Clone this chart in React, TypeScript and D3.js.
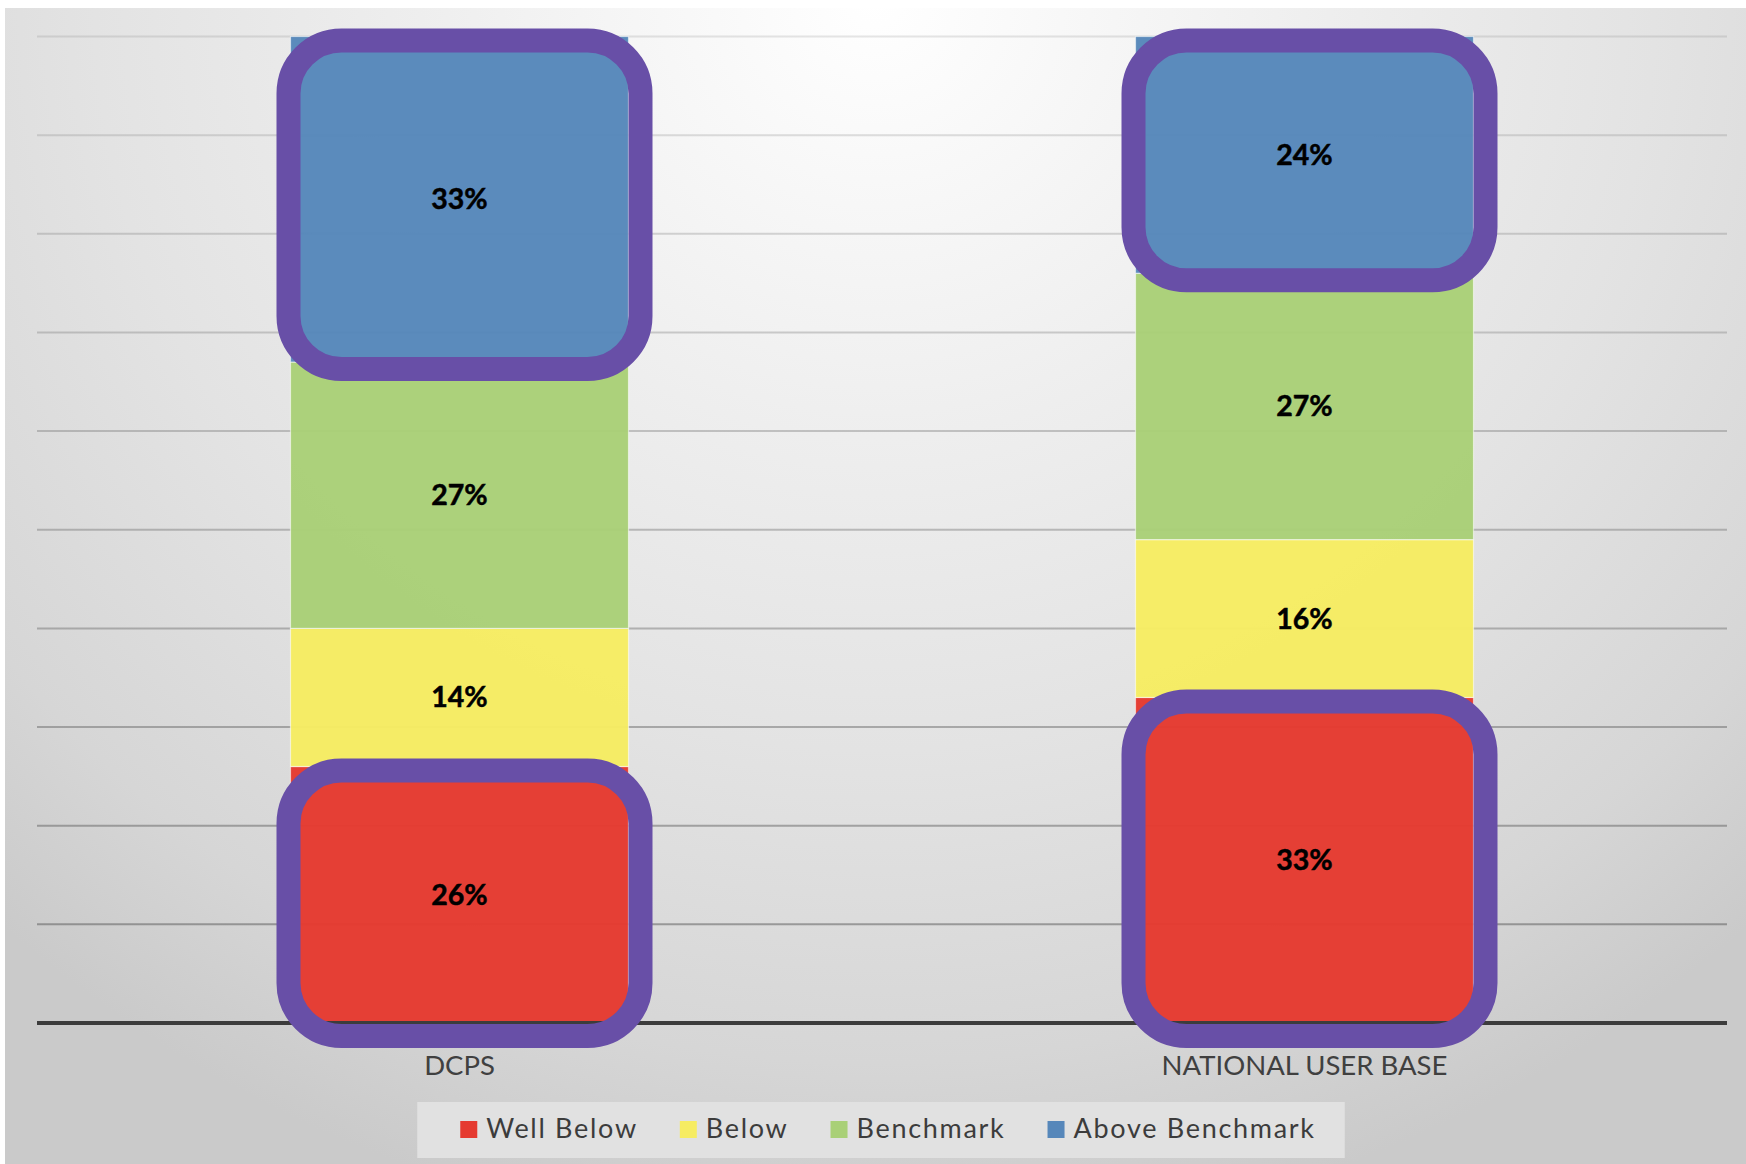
import React, { useLayoutEffect, useRef, useState } from "react";
import * as d3 from "d3";

const W = 1746;
const H = 1164;

const categories = ["DCPS", "NATIONAL USER BASE"];
const seriesNames = ["Well Below", "Below", "Benchmark", "Above Benchmark"];
const wellBelow = [0.26, 0.33];
const below = [0.14, 0.16];
const benchmark = [0.27, 0.27];
const aboveBenchmark = [0.33, 0.24];
const seriesColors = ["#E53A30", "#F6EC62", "#A9D077", "#5687BA"];
const yTickValues = [0.1, 0.2, 0.3, 0.4, 0.5, 0.6, 0.7, 0.8, 0.9, 1.0];
const highlights = [
  { category: "DCPS", series: "Above Benchmark" },
  { category: "DCPS", series: "Well Below" },
  { category: "NATIONAL USER BASE", series: "Above Benchmark" },
  { category: "NATIONAL USER BASE", series: "Well Below" },
];

const FONT = "Lato, 'Open Sans', 'DejaVu Sans', sans-serif";

export default function App() {
  const plotLeft = 37;
  const plotRight = 1727;
  const plotTop = 36.5;
  const plotBottom = 1023;

  const x = d3
    .scaleBand<string>()
    .domain(categories)
    .range([plotLeft, plotRight])
    .paddingInner(0.6)
    .paddingOuter(0.3);
  const y = d3.scaleLinear().domain([0, 1]).range([plotBottom, plotTop]);
  const bw = x.bandwidth();

  const rows = categories.map((c, i) => ({
    category: c,
    "Well Below": wellBelow[i],
    Below: below[i],
    Benchmark: benchmark[i],
    "Above Benchmark": aboveBenchmark[i],
  }));
  const stacked = d3.stack<any>().keys(seriesNames)(rows);
  const color = d3.scaleOrdinal<string, string>().domain(seriesNames).range(seriesColors);
  const pct = d3.format(".0%");

  // legend measurement
  const textRefs = useRef<(SVGTextElement | null)[]>([]);
  const [widths, setWidths] = useState<number[]>(seriesNames.map(() => 140));
  useLayoutEffect(() => {
    const w = textRefs.current.map((t) => (t ? t.getComputedTextLength() : 140));
    if (w.some((v, i) => Math.abs(v - widths[i]) > 0.5)) setWidths(w);
  });

  const swatch = 17;
  const swGap = 9;
  const itemGap = 42;
  const legendTotal =
    widths.reduce((a, b) => a + b, 0) +
    seriesNames.length * (swatch + swGap) +
    (seriesNames.length - 1) * itemGap;
  const legendCenter = (plotLeft + plotRight) / 2 + 6;
  const legendStart = legendCenter - legendTotal / 2;
  const itemX: number[] = [];
  let acc = legendStart;
  widths.forEach((w) => {
    itemX.push(acc);
    acc += swatch + swGap + w + itemGap;
  });
  const legendBoxX0 = legendStart - 43;
  const legendBoxX1 = legendStart + legendTotal + 29;

  return (
    <div style={{ position: "absolute", left: 0, top: 0, width: W, height: H }}>
      <svg width={W} height={H} style={{ display: "block" }}>
        <defs>
          <radialGradient
            id="bg"
            gradientUnits="userSpaceOnUse"
            cx={0}
            cy={0}
            r={1}
            gradientTransform={`translate(875,0) scale(1300,1250)`}
          >
            <stop offset="0" stopColor="#ffffff" />
            <stop offset="0.35" stopColor="#eeeeee" />
            <stop offset="0.6" stopColor="#e3e3e3" />
            <stop offset="0.85" stopColor="#d6d6d6" />
            <stop offset="1" stopColor="#cacaca" />
          </radialGradient>
        </defs>
        <rect x={0} y={0} width={W} height={H} fill="#ffffff" />
        <rect x={5} y={8} width={W - 5} height={H - 8} fill="url(#bg)" />

        {/* gridlines */}
        <g>
          {yTickValues.map((t) => (
            <line
              key={t}
              x1={plotLeft}
              x2={plotRight}
              y1={y(t)}
              y2={y(t)}
              stroke="#595959"
              strokeOpacity={0.55 - 0.4 * t}
              strokeWidth={2}
            />
          ))}
        </g>

        {/* bars */}
        <g>
          {stacked.map((s) => (
            <g key={s.key} fill={color(s.key)}>
              {s.map((d: any, ci: number) => (
                <rect
                  key={ci}
                  x={x(categories[ci])}
                  y={y(d[1])}
                  width={bw}
                  height={y(d[0]) - y(d[1])}
                  fillOpacity={0.97}
                  stroke="#ffffff"
                  strokeOpacity={0.55}
                  strokeWidth={1.2}
                />
              ))}
            </g>
          ))}
        </g>

        {/* data labels */}
        <g>
          {stacked.map((s) =>
            s.map((d: any, ci: number) => (
              <text
                key={s.key + ci}
                x={(x(categories[ci]) as number) + bw / 2}
                y={(y(d[0]) + y(d[1])) / 2 + 10}
                textAnchor="middle"
                fontFamily={FONT}
                fontWeight={700}
                fontSize={28.5}
                fill="#000000"
                stroke="#000000"
                strokeWidth={0.5}
              >
                {pct(d[1] - d[0])}
              </text>
            ))
          )}
        </g>

        {/* axis line */}
        <line
          x1={plotLeft}
          x2={plotRight}
          y1={y(0)}
          y2={y(0)}
          stroke="#3c3c3c"
          strokeWidth={4}
        />

        {/* highlight boxes */}
        <g>
          {highlights.map((h, i) => {
            const si = seriesNames.indexOf(h.series);
            const ci = categories.indexOf(h.category);
            const seg = stacked[si][ci];
            const bx0 = (x(h.category) as number) - 2;
            const bx1 = (x(h.category) as number) + bw + 12;
            const by0 = y(seg[1]) + 4;
            const by1 = y(seg[0]) + (seg[0] === 0 ? 13 : 7);
            return (
              <rect
                key={i}
                x={bx0}
                y={by0}
                width={bx1 - bx0}
                height={by1 - by0}
                rx={53}
                ry={53}
                fill="none"
                stroke="#684FA7"
                strokeWidth={24}
              />
            );
          })}
        </g>

        {/* category labels */}
        <g>
          {categories.map((c) => (
            <text
              key={c}
              x={(x(c) as number) + bw / 2}
              y={1075}
              textAnchor="middle"
              fontFamily={FONT}
              fontSize={27.5}
              fill="#404040"
            >
              {c}
            </text>
          ))}
        </g>

        {/* legend */}
        <rect
          x={legendBoxX0}
          y={1102}
          width={legendBoxX1 - legendBoxX0}
          height={56}
          fill="#e1e1e1"
        />
        <g>
          {seriesNames.map((s, i) => (
            <g key={s}>
              <rect
                x={itemX[i]}
                y={1121}
                width={swatch}
                height={swatch}
                fill={color(s)}
              />
              <text
                ref={(el) => {
                  textRefs.current[i] = el;
                }}
                x={itemX[i] + swatch + swGap}
                y={1138}
                fontFamily={FONT}
                fontSize={27}
                letterSpacing={1.7}
                fill="#3c3c3c"
              >
                {s}
              </text>
            </g>
          ))}
        </g>
      </svg>
    </div>
  );
}
